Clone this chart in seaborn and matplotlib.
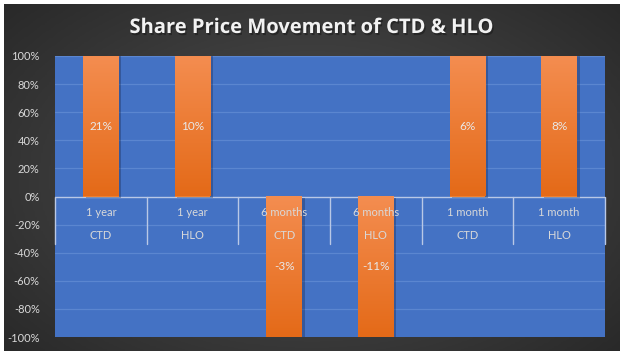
import numpy as np
import pandas as pd
import seaborn as sns
import matplotlib.pyplot as plt
from matplotlib import patheffects as pe
from matplotlib.ticker import PercentFormatter
from matplotlib.colors import LinearSegmentedColormap

# data (values in percent, axis runs -1..1 so bars are clipped like the original)
periods = ['1 year', '1 year', '6 months', '6 months', '1 month', '1 month']
companies = ['CTD', 'HLO', 'CTD', 'HLO', 'CTD', 'HLO']
values = [21, 10, -3, -11, 6, 8]
title = 'Share Price Movement of CTD & HLO'

df = pd.DataFrame({'key': [p + ' ' + c for p, c in zip(periods, companies)],
                   'value': values})

sns.set_theme(style='white')
plt.rcParams['font.family'] = ['Lato', 'DejaVu Sans']
plt.rcParams['axes.unicode_minus'] = False

fig = plt.figure(figsize=(6.23, 3.57), dpi=100)

# dark radial background frame
bg = fig.add_axes([4/623, 6/357, 616/623, 347/357])
yy, xx = np.mgrid[-1:1:200j, -1:1:300j]
r = np.sqrt(xx**2 + (yy*0.9)**2)
bg.imshow(r, cmap=LinearSegmentedColormap.from_list('bg', ['#525252', '#262626']),
          aspect='auto', vmin=0, vmax=1.45)
bg.axis('off')

ax = fig.add_axes([55/623, 20/357, 550/623, 281/357])
ax.set_facecolor('#4472C4')
sns.barplot(data=df, x='key', y='value', width=0.39, color='#F08030',
            saturation=1, linewidth=0, ax=ax, zorder=2)
ax.set_ylim(-1, 1)
ax.set_xlim(-0.5, len(values) - 0.5)
ax.set_yticks(np.arange(-5, 6) / 5)
ax.yaxis.set_major_formatter(PercentFormatter(xmax=1, decimals=0))
ax.tick_params(axis='y', length=0, pad=11, labelsize=8, labelcolor='#d9d9d9')
ax.set_xticks([])
ax.set_xlabel('')
ax.set_ylabel('')
for s in ax.spines.values():
    s.set_visible(False)
for g in np.arange(-0.8, 1.01, 0.2):
    if abs(g) > 1e-6:
        ax.axhline(g, color='#5b86d0', lw=0.9, zorder=1)
ax.axhline(0, color='#b9c8e6', lw=1, zorder=1.5)

grad = LinearSegmentedColormap.from_list('bar', ['#E46A18', '#F48D50'])
for p in ax.patches:
    x0, w = p.get_x(), p.get_width()
    y0, y1 = sorted([p.get_y(), p.get_y() + p.get_height()])
    y0, y1 = max(y0, -1), min(y1, 1)
    p.set_path_effects([pe.SimplePatchShadow(offset=(2, -1), shadow_rgbFace='#1a2a50', alpha=0.35),
                        pe.Normal()])
    ax.imshow(np.linspace(0, 1, 100).reshape(-1, 1), cmap=grad, origin='lower',
              extent=(x0, x0 + w, y0, y1), aspect='auto', zorder=2.5)

ax.set_ylim(-1, 1)
ax.set_xlim(-0.5, len(values) - 0.5)

for i, v in enumerate(values):
    ax.text(i, np.clip(v, -1, 1) / 2, f'{v}%', ha='center', va='center',
            fontsize=8.5, color='#e8e8e8', zorder=4)
    ax.text(i, -0.114, periods[i], ha='center', va='center', fontsize=8,
            color='#d9d9d9', zorder=4)
    ax.text(i, -0.279, companies[i], ha='center', va='center', fontsize=8,
            color='#d9d9d9', zorder=4)
for b in np.arange(-0.5, len(values), 1.0):
    ax.plot([b, b], [0, -0.336], color='#b9c8e6', lw=1, zorder=1.5, clip_on=False)

fig.text(0.5, 1 - 28/357, title, ha='center', va='center', fontsize=14.5,
         fontweight='bold', color='#f2f2f2', family=['Open Sans', 'DejaVu Sans'],
         path_effects=[pe.withSimplePatchShadow(offset=(1, -1.5), shadow_rgbFace='k', alpha=0.6)])

fig.savefig('out.png', dpi=100)
